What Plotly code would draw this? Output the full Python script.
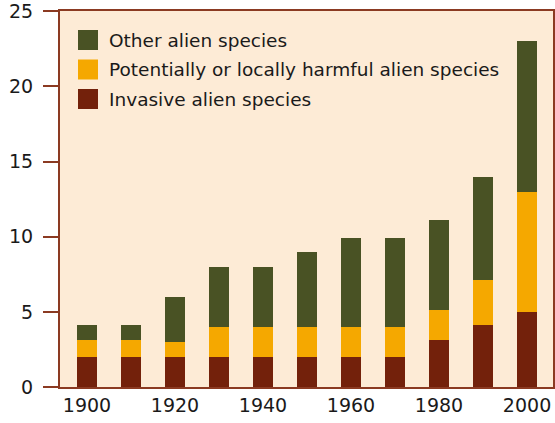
import plotly.graph_objects as go

years = [1900, 1910, 1920, 1930, 1940, 1950, 1960, 1970, 1980, 1990, 2000]
invasive = [2, 2, 2, 2, 2, 2, 2, 2, 3.1, 4.1, 5]
potentially = [1.1, 1.1, 1, 2, 2, 2, 2, 2, 2, 3, 8]
other = [1.05, 1.0, 3, 4, 4, 5, 5.9, 5.9, 6, 6.9, 10]

series_names = ["Invasive alien species", "Potentially or locally harmful alien species", "Other alien species"]
series_colors = ["#73210b", "#f5a800", "#495224"]
series_values = [invasive, potentially, other]

x_ticks = [1900, 1920, 1940, 1960, 1980, 2000]
y_ticks = [0, 5, 10, 15, 20, 25]

BROWN = "#8b3a22"
FONT = "DejaVu Sans"

fig = go.Figure()
for name, color, vals in zip(series_names, series_colors, series_values):
    fig.add_trace(go.Bar(x=years, y=vals, name=name, marker_color=color,
                         marker_line_width=0, width=4.55, showlegend=False))

# manual legend (top to bottom: Other, Potentially, Invasive)
legend_rows = list(zip(series_names, series_colors))[::-1]
row_y = [40, 69.5, 99]
for (name, color), yc in zip(legend_rows, row_y):
    fig.add_shape(type="rect", xref="paper", yref="paper",
                  x0=(78 - 60) / 493, x1=(98 - 60) / 493,
                  y0=(387 - (yc + 10)) / 376, y1=(387 - (yc - 10)) / 376,
                  fillcolor=color, line_width=0, layer="above")
    fig.add_annotation(xref="paper", yref="paper", x=(107 - 60) / 493,
                       y=(387 - yc) / 376, text=name, showarrow=False,
                       xanchor="left", yanchor="middle",
                       font=dict(family=FONT, size=18.5, color="#1a1a1a"))

fig.update_layout(
    width=555, height=423,
    margin=dict(l=60, r=2, t=11, b=36, autoexpand=False),
    paper_bgcolor="white", plot_bgcolor="#fdebd6",
    barmode="stack", bargap=0,
    font=dict(family=FONT, size=19, color="#1a1a1a"),
)
fig.update_xaxes(range=[1893.86, 2005.9], tickvals=x_ticks, ticks="",
                 showgrid=False, zeroline=False, showline=True, mirror=True,
                 linecolor=BROWN, linewidth=2, tickfont=dict(size=19),
                 automargin=False, ticklabeloverflow="allow")
fig.update_yaxes(range=[0, 25.02], tickvals=y_ticks, ticks="outside", ticklen=15,
                 tickwidth=2, tickcolor=BROWN, showgrid=False, zeroline=False,
                 showline=True, mirror=True, linecolor=BROWN, linewidth=2,
                 tickfont=dict(size=19), automargin=False,
                 ticklabeloverflow="allow", ticklabelstandoff=6)

fig.write_html("out.html", config={"displayModeBar": False},
               post_script="document.body.style.margin='0';document.body.style.overflow='hidden';")
